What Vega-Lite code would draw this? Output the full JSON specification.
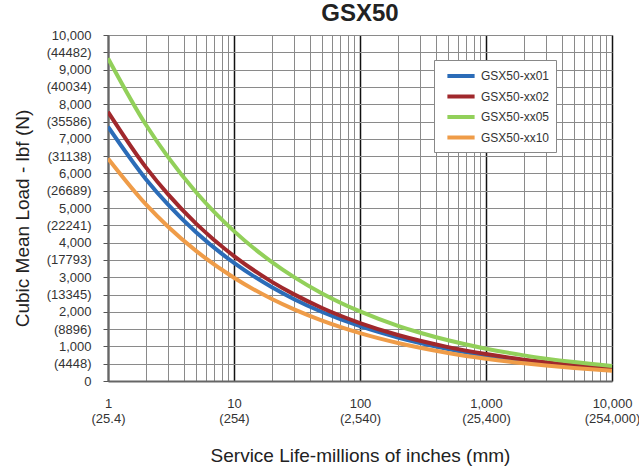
{
  "$schema": "https://vega.github.io/schema/vega-lite/v6.json",
  "autosize": {"type": "none"},
  "padding": {"left": 108, "top": 35, "right": 27, "bottom": 90},
  "width": 504,
  "height": 346,
  "background": "white",
  "config": {
    "font": "Liberation Sans",
    "view": {"stroke": "#808080", "strokeWidth": 1}
  },
  "title": {
    "text": "GSX50",
    "fontSize": 24,
    "fontWeight": "bold",
    "color": "#222222",
    "anchor": "middle",
    "baseline": "alphabetic",
    "offset": 6,
    "dy": 22
  },
  "data": {
    "values": [
      {"life": 1, "load": 7350, "series": "GSX50-xx01"},
      {"life": 2, "load": 5834, "series": "GSX50-xx01"},
      {"life": 3, "load": 5096, "series": "GSX50-xx01"},
      {"life": 5, "load": 4298, "series": "GSX50-xx01"},
      {"life": 10, "load": 3412, "series": "GSX50-xx01"},
      {"life": 20, "load": 2708, "series": "GSX50-xx01"},
      {"life": 30, "load": 2365, "series": "GSX50-xx01"},
      {"life": 50, "load": 1995, "series": "GSX50-xx01"},
      {"life": 100, "load": 1583, "series": "GSX50-xx01"},
      {"life": 200, "load": 1257, "series": "GSX50-xx01"},
      {"life": 300, "load": 1098, "series": "GSX50-xx01"},
      {"life": 500, "load": 926, "series": "GSX50-xx01"},
      {"life": 1000, "load": 735, "series": "GSX50-xx01"},
      {"life": 2000, "load": 584, "series": "GSX50-xx01"},
      {"life": 3000, "load": 509, "series": "GSX50-xx01"},
      {"life": 5000, "load": 430, "series": "GSX50-xx01"},
      {"life": 10000, "load": 341, "series": "GSX50-xx01"},
      {"life": 1, "load": 7780, "series": "GSX50-xx02"},
      {"life": 2, "load": 6175, "series": "GSX50-xx02"},
      {"life": 3, "load": 5395, "series": "GSX50-xx02"},
      {"life": 5, "load": 4550, "series": "GSX50-xx02"},
      {"life": 10, "load": 3611, "series": "GSX50-xx02"},
      {"life": 20, "load": 2866, "series": "GSX50-xx02"},
      {"life": 30, "load": 2504, "series": "GSX50-xx02"},
      {"life": 50, "load": 2111, "series": "GSX50-xx02"},
      {"life": 100, "load": 1676, "series": "GSX50-xx02"},
      {"life": 200, "load": 1330, "series": "GSX50-xx02"},
      {"life": 300, "load": 1162, "series": "GSX50-xx02"},
      {"life": 500, "load": 980, "series": "GSX50-xx02"},
      {"life": 1000, "load": 778, "series": "GSX50-xx02"},
      {"life": 2000, "load": 618, "series": "GSX50-xx02"},
      {"life": 3000, "load": 539, "series": "GSX50-xx02"},
      {"life": 5000, "load": 455, "series": "GSX50-xx02"},
      {"life": 10000, "load": 361, "series": "GSX50-xx02"},
      {"life": 1, "load": 9330, "series": "GSX50-xx05"},
      {"life": 2, "load": 7405, "series": "GSX50-xx05"},
      {"life": 3, "load": 6469, "series": "GSX50-xx05"},
      {"life": 5, "load": 5456, "series": "GSX50-xx05"},
      {"life": 10, "load": 4331, "series": "GSX50-xx05"},
      {"life": 20, "load": 3437, "series": "GSX50-xx05"},
      {"life": 30, "load": 3002, "series": "GSX50-xx05"},
      {"life": 50, "load": 2532, "series": "GSX50-xx05"},
      {"life": 100, "load": 2010, "series": "GSX50-xx05"},
      {"life": 200, "load": 1595, "series": "GSX50-xx05"},
      {"life": 300, "load": 1394, "series": "GSX50-xx05"},
      {"life": 500, "load": 1176, "series": "GSX50-xx05"},
      {"life": 1000, "load": 933, "series": "GSX50-xx05"},
      {"life": 2000, "load": 741, "series": "GSX50-xx05"},
      {"life": 3000, "load": 647, "series": "GSX50-xx05"},
      {"life": 5000, "load": 546, "series": "GSX50-xx05"},
      {"life": 10000, "load": 433, "series": "GSX50-xx05"},
      {"life": 1, "load": 6430, "series": "GSX50-xx10"},
      {"life": 2, "load": 5103, "series": "GSX50-xx10"},
      {"life": 3, "load": 4459, "series": "GSX50-xx10"},
      {"life": 5, "load": 3760, "series": "GSX50-xx10"},
      {"life": 10, "load": 2985, "series": "GSX50-xx10"},
      {"life": 20, "load": 2369, "series": "GSX50-xx10"},
      {"life": 30, "load": 2069, "series": "GSX50-xx10"},
      {"life": 50, "load": 1745, "series": "GSX50-xx10"},
      {"life": 100, "load": 1385, "series": "GSX50-xx10"},
      {"life": 200, "load": 1100, "series": "GSX50-xx10"},
      {"life": 300, "load": 961, "series": "GSX50-xx10"},
      {"life": 500, "load": 810, "series": "GSX50-xx10"},
      {"life": 1000, "load": 643, "series": "GSX50-xx10"},
      {"life": 2000, "load": 511, "series": "GSX50-xx10"},
      {"life": 3000, "load": 446, "series": "GSX50-xx10"},
      {"life": 5000, "load": 376, "series": "GSX50-xx10"},
      {"life": 10000, "load": 298, "series": "GSX50-xx10"}
    ]
  },
  "mark": {"type": "line", "strokeWidth": 4, "interpolate": "monotone", "clip": true},
  "encoding": {
    "x": {
      "field": "life",
      "type": "quantitative",
      "scale": {"type": "log", "domain": [1, 10000], "nice": false},
      "axis": {
        "title": "Service Life-millions of inches (mm)",
        "titleFontSize": 19,
        "titleFontWeight": "normal",
        "titleColor": "#222222",
        "titlePadding": 21,
        "values": [1,2,3,4,5,6,7,8,9,10,20,30,40,50,60,70,80,90,100,200,300,400,500,600,700,800,900,1000,2000,3000,4000,5000,6000,7000,8000,9000,10000],
        "labelExpr": "indexof([1,10,100,1000,10000], datum.value) >= 0 ? [format(datum.value, ','), '(' + format(datum.value * 25.4, ',') + ')'] : ''",
        "labelFontSize": 13,
        "labelColor": "#333333",
        "labelLineHeight": 15,
        "labelPadding": 16,
        "labelFlush": false,
        "labelOverlap": false,
        "labelBound": false,
        "ticks": false,
        "domainColor": "#666666",
        "domainWidth": 2,
        "grid": true,
        "gridColor": {"condition": {"test": "indexof([1,10,100,1000,10000], datum.value) >= 0", "value": "#111111"}, "value": "#8a8a8a"},
        "gridWidth": {"condition": {"test": "indexof([1,10,100,1000,10000], datum.value) >= 0", "value": 1.5}, "value": 1},
        "gridOpacity": 1
      }
    },
    "y": {
      "field": "load",
      "type": "quantitative",
      "scale": {"domain": [0, 10000], "nice": false},
      "axis": {
        "title": "Cubic Mean Load - lbf (N)",
        "titleFontSize": 19,
        "titleFontWeight": "normal",
        "titleColor": "#222222",
        "titlePadding": 14,
        "titleY": 183,
        "values": [0,500,1000,1500,2000,2500,3000,3500,4000,4500,5000,5500,6000,6500,7000,7500,8000,8500,9000,9500,10000],
        "labelExpr": "datum.value % 1000 == 0 ? format(datum.value, ',') : '(' + format(round((datum.value + 500) * 4.44822), 'd') + ')'",
        "labelFontSize": 13,
        "labelColor": "#333333",
        "labelPadding": 12,
        "labelOverlap": false,
        "labelBound": false,
        "labelFlush": false,
        "tickSize": 5,
        "tickColor": "#555555",
        "domainColor": "#666666",
        "domainWidth": 2,
        "grid": true,
        "gridColor": "#8a8a8a",
        "gridWidth": 1,
        "gridOpacity": 1
      }
    },
    "color": {
      "field": "series",
      "type": "nominal",
      "scale": {
        "domain": ["GSX50-xx01", "GSX50-xx02", "GSX50-xx05", "GSX50-xx10"],
        "range": ["#2b6cb8", "#a0282c", "#92d05a", "#ef9c48"]
      },
      "legend": {
        "title": null,
        "orient": "none",
        "legendX": 326,
        "legendY": 25,
        "fillColor": "white",
        "strokeColor": "#888888",
        "padding": 6,
        "symbolType": "M-1.7,0H1.7",
        "symbolSize": 256,
        "symbolStrokeWidth": 4,
        "symbolOffset": 11,
        "labelFontSize": 12,
        "labelColor": "#333333",
        "labelOffset": 10,
        "rowPadding": 2.5
      }
    }
  }
}
